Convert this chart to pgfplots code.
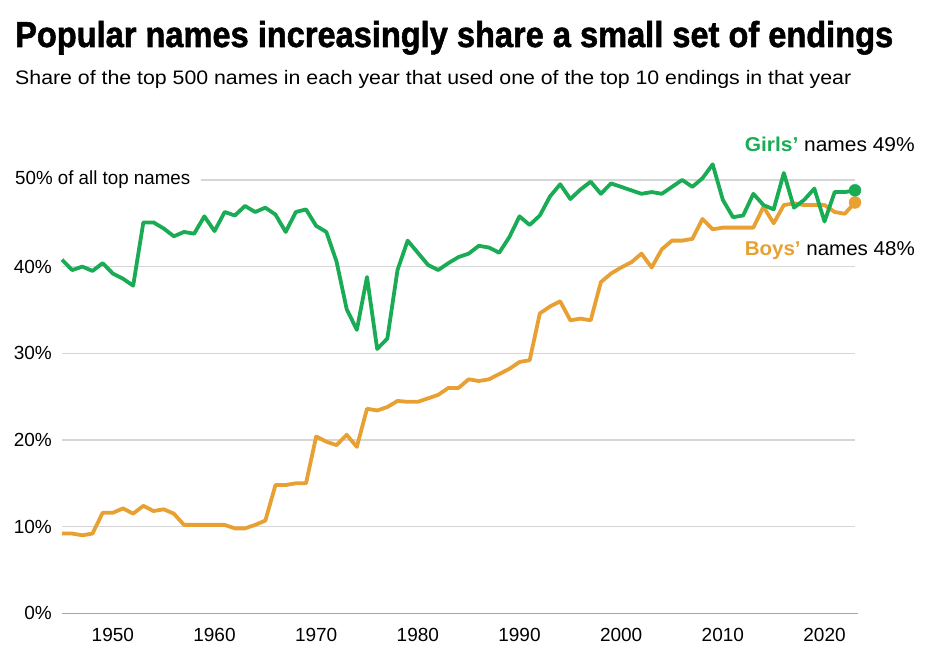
\documentclass[border=0pt]{standalone}
\usepackage{pgfplots}
\pgfplotsset{compat=1.18}
\usepackage{pgfplotstable}
\usepackage{graphicx}
\usepackage{fontspec}
\setmainfont{Liberation Sans}
\newfontfamily\titlefont{Liberation Sans}[BoldFeatures={FakeBold=1.6}]
\definecolor{girls}{HTML}{1AAB55}
\definecolor{boys}{HTML}{E8A033}
\definecolor{gridc}{HTML}{D6D6D6}
\definecolor{basec}{HTML}{A6A6A6}
\newcommand{\fitw}[2]{\resizebox{#1}{\height}{#2}}

\pgfplotstableread{
year girls boys
1945 40.8 9.2
1946 39.6 9.2
1947 40.0 9.0
1948 39.5 9.2
1949 40.4 11.6
1950 39.2 11.6
1951 38.6 12.1
1952 37.8 11.5
1953 45.1 12.4
1954 45.1 11.8
1955 44.4 12.0
1956 43.5 11.5
1957 44.0 10.2
1958 43.8 10.2
1959 45.8 10.2
1960 44.1 10.2
1961 46.3 10.2
1962 45.9 9.8
1963 47.0 9.8
1964 46.3 10.2
1965 46.8 10.7
1966 46.0 14.8
1967 44.0 14.8
1968 46.3 15.0
1969 46.6 15.0
1970 44.7 20.4
1971 44.0 19.8
1972 40.6 19.4
1973 35.1 20.6
1974 32.7 19.2
1975 38.8 23.6
1976 30.5 23.4
1977 31.7 23.8
1978 39.6 24.5
1979 43.0 24.4
1980 41.6 24.4
1981 40.2 24.8
1982 39.6 25.2
1983 40.4 26.0
1984 41.1 26.0
1985 41.5 27.0
1986 42.4 26.8
1987 42.2 27.0
1988 41.6 27.6
1989 43.4 28.2
1990 45.8 29.0
1991 44.8 29.2
1992 45.9 34.6
1993 48.1 35.4
1994 49.5 36.0
1995 47.8 33.8
1996 48.9 34.0
1997 49.8 33.8
1998 48.4 38.2
1999 49.6 39.2
2000 49.2 39.9
2001 48.8 40.5
2002 48.4 41.5
2003 48.6 39.9
2004 48.4 42.0
2005 49.2 43.0
2006 50.0 43.0
2007 49.2 43.2
2008 50.2 45.5
2009 51.8 44.3
2010 47.7 44.5
2011 45.7 44.5
2012 45.9 44.5
2013 48.4 44.5
2014 47.1 46.9
2015 46.6 45.0
2016 50.8 47.1
2017 46.8 47.3
2018 47.7 47.1
2019 49.0 47.1
2020 45.2 47.1
2021 48.6 46.3
2022 48.6 46.1
2023 48.8 47.4
}\datatable

\begin{document}
\begin{tikzpicture}[x=1pt,y=1pt]
\useasboundingbox (0,0) rectangle (936,648);
\node[anchor=base west, inner sep=0pt] at (15,601) {\fitw{878pt}{\fontsize{36}{36}\selectfont\titlefont\bfseries Popular names increasingly share a small set of endings}};
\node[anchor=base west, inner sep=0pt] at (15,563) {\fitw{836pt}{\fontsize{19.5}{20}\selectfont Share of the top 500 names in each year that used one of the top 10 endings in that year}};

\begin{axis}[
  at={(62pt,34.7pt)}, anchor=south west,
  scale only axis, width=793pt, height=476.7pt,
  xmin=1945, xmax=2023, ymin=0, ymax=55,
  clip=false,
  axis line style={draw=none},
  major tick style={draw=none},
  minor tick style={draw=none},
  ytick={10,20,30,40},
  yticklabels={10\%,20\%,30\%,40\%},
  extra y ticks={0},
  extra y tick labels={0\%},
  extra y tick style={grid=none},
  ymajorgrids,
  grid style={gridc, line width=1.3pt},
  xtick={1950,1960,...,2020},
  xticklabels={1950,1960,1970,1980,1990,2000,2010,2020},
  /pgf/number format/assume math mode=true,
  yticklabel style={anchor=east, inner sep=0pt, xshift=-10pt, font=\fontsize{19}{19}\selectfont},
  xticklabel style={anchor=north, inner sep=0pt, yshift=-15pt, font=\fontsize{19}{19}\selectfont},
]
\draw[basec, line width=1.5pt] (axis cs:1945,0) -- (axis cs:2023.3,0);
\draw[gridc, line width=1.3pt] (axis cs:1958.7,50) -- (axis cs:2023,50);
\node[anchor=west, inner sep=0pt] at ([xshift=-47pt]axis cs:1945,50) {\fitw{175pt}{\fontsize{19}{19}\selectfont 50\% of all top names}};

\addplot[boys, line width=3.8pt, line join=round, mark=none] table[x=year, y=boys] {\datatable};
\addplot[girls, line width=3.8pt, line join=round, mark=none] table[x=year, y=girls] {\datatable};
\addplot[boys, only marks, mark=*, mark size=6pt] coordinates {(2023,47.4)};
\addplot[girls, only marks, mark=*, mark size=6pt] coordinates {(2023,48.8)};

\node[anchor=base east, inner sep=0pt] at ([xshift=60pt]axis cs:2023,53.3) {\fitw{170pt}{\fontsize{20}{20}\selectfont\textcolor{girls}{\bfseries Girls’} names 49\%}};
\node[anchor=base east, inner sep=0pt] at ([xshift=60pt]axis cs:2023,41.3) {\fitw{170pt}{\fontsize{20}{20}\selectfont\textcolor{boys}{\bfseries Boys’} names 48\%}};
\end{axis}
\end{tikzpicture}
\end{document}
